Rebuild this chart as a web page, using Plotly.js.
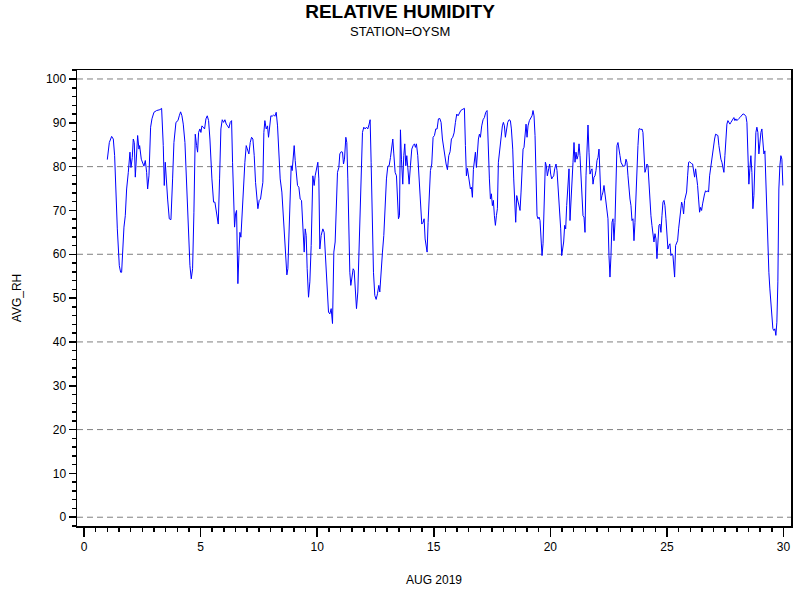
<!DOCTYPE html>
<html>
<head>
<meta charset="utf-8">
<script src="https://cdn.plot.ly/plotly-3.0.1.min.js"></script>
<style>
  html, body { margin: 0; padding: 0; background: #fff; }
  #chart { width: 800px; height: 600px; }
</style>
</head>
<body>
<div id="chart"></div>
<script>
// day of month (Aug 2019) and average relative humidity
var day = [
  1.000,1.086,1.186,1.257,1.314,1.371,1.429,1.514,1.571,1.614,1.657,1.714,1.771,1.829,1.900,1.971,
  2.014,2.071,2.114,2.157,2.200,2.257,2.300,2.357,2.386,2.457,2.514,2.571,2.629,2.686,2.729,2.786,2.857,2.914,
  3.000,3.114,3.257,3.329,3.400,3.443,3.486,3.529,3.586,3.657,3.729,3.800,3.857,3.943,
  4.029,4.086,4.143,4.200,4.257,4.329,4.400,4.471,4.543,4.600,4.657,4.714,4.771,4.829,4.871,4.914,4.971,
  5.014,5.057,5.114,5.171,5.229,5.286,5.343,5.400,5.486,5.557,5.614,5.686,5.757,5.814,5.871,5.929,5.986,
  6.043,6.100,6.157,6.214,6.271,6.329,6.371,6.414,6.457,6.500,6.543,6.571,6.600,6.643,6.686,6.729,6.786,6.843,6.900,6.957,
  7.014,7.071,7.129,7.186,7.243,7.300,7.357,7.414,7.457,7.514,7.571,7.629,7.671,7.714,7.757,7.814,7.871,7.914,7.957,
  8.014,8.071,8.129,8.186,8.243,8.300,8.357,8.414,8.486,8.543,8.600,8.657,8.700,8.743,8.786,8.843,8.886,8.929,8.971,
  9.014,9.057,9.100,9.157,9.214,9.271,9.329,9.386,9.443,9.486,9.529,9.571,9.629,9.686,9.743,9.814,9.871,9.914,9.971,
  10.029,10.071,10.114,10.171,10.243,10.300,10.357,10.429,10.486,10.543,10.600,10.657,10.714,10.771,10.829,10.871,10.929,10.971,
  11.029,11.086,11.129,11.171,11.229,11.271,11.314,11.357,11.400,11.443,11.500,11.543,11.586,11.643,11.686,11.743,11.800,11.857,11.900,11.943,
  12.000,12.057,12.114,12.171,12.229,12.271,12.314,12.357,12.414,12.471,12.529,12.586,12.643,12.686,12.743,12.800,12.857,12.914,12.971,
  13.029,13.086,13.143,13.200,13.243,13.286,13.343,13.400,13.443,13.486,13.529,13.571,13.614,13.671,13.714,13.757,13.800,13.843,13.886,13.943,
  14.000,14.057,14.114,14.171,14.214,14.257,14.314,14.371,14.429,14.486,14.543,14.586,14.629,14.671,14.714,14.757,14.814,14.857,14.914,14.971,
  15.029,15.086,15.143,15.200,15.257,15.314,15.371,15.429,15.471,15.529,15.586,15.643,15.700,15.757,15.814,15.871,15.929,15.986,
  16.043,16.100,16.157,16.214,16.271,16.314,16.357,16.400,16.443,16.486,16.529,16.571,16.614,16.657,16.700,16.743,16.786,16.829,16.871,16.914,16.957,
  17.000,17.057,17.114,17.171,17.229,17.286,17.329,17.386,17.429,17.471,17.514,17.557,17.600,17.643,17.686,17.729,17.771,17.829,17.886,17.943,17.986,
  18.029,18.071,18.114,18.171,18.229,18.286,18.329,18.386,18.429,18.471,18.514,18.557,18.614,18.657,18.700,18.743,18.786,18.829,18.871,18.914,18.957,
  19.000,19.043,19.100,19.157,19.214,19.257,19.300,19.343,19.386,19.429,19.471,19.514,19.557,19.600,19.643,19.686,19.729,19.786,19.829,19.871,19.929,19.971,
  20.014,20.057,20.100,20.143,20.186,20.243,20.286,20.329,20.371,20.400,20.443,20.486,20.529,20.571,20.614,20.657,20.700,20.743,20.800,20.843,20.886,20.929,20.971,
  21.014,21.057,21.100,21.143,21.186,21.229,21.271,21.314,21.357,21.400,21.443,21.486,21.529,21.571,21.614,21.657,21.700,21.743,21.786,21.829,21.871,21.914,21.957,
  22.000,22.043,22.086,22.129,22.171,22.214,22.257,22.300,22.343,22.386,22.429,22.471,22.514,22.557,22.600,22.643,22.686,22.729,22.771,22.814,22.857,22.900,22.943,22.986,
  23.029,23.071,23.114,23.157,23.200,23.243,23.286,23.329,23.371,23.414,23.457,23.500,23.543,23.586,23.629,23.671,23.714,23.757,23.800,23.843,23.886,23.929,23.971,
  24.014,24.057,24.100,24.143,24.186,24.229,24.271,24.314,24.357,24.400,24.443,24.486,24.529,24.571,24.614,24.657,24.700,24.743,24.786,24.829,24.871,24.914,24.957,
  25.000,25.043,25.086,25.129,25.171,25.214,25.257,25.300,25.329,25.371,25.414,25.457,25.500,25.543,25.586,25.629,25.671,25.714,25.757,25.800,25.843,25.886,25.929,25.971,
  26.014,26.057,26.100,26.143,26.186,26.229,26.271,26.314,26.357,26.400,26.443,26.486,26.529,26.571,26.614,26.657,26.700,26.743,26.786,26.829,26.871,26.914,26.957,
  27.000,27.043,27.086,27.143,27.186,27.229,27.271,27.314,27.357,27.400,27.443,27.486,27.529,27.571,27.614,27.657,27.700,27.743,27.786,27.829,27.871,27.914,27.957,
  28.000,28.043,28.086,28.129,28.171,28.214,28.257,28.300,28.343,28.386,28.429,28.471,28.514,28.557,28.600,28.643,28.686,28.729,28.771,28.814,28.857,28.900,28.943,28.986,
  29.029,29.071,29.114,29.157,29.200,29.243,29.286,29.329,29.371,29.414,29.457,29.500,29.543,29.586,29.629,29.671,29.714,29.757,29.800,29.843,29.886,29.929,29.971
];
var rh = [
  81.6,85.5,86.9,86.3,82.5,73.4,65.8,57.4,55.9,55.9,62.0,66.2,68.8,74.9,78.7,83.3,
  79.8,82.1,86.3,85.5,77.6,83.3,87.1,84.0,84.8,81.7,80.6,80.1,81.4,78.7,74.9,77.9,89.0,90.9,
  92.4,92.8,93.0,93.3,84.8,75.7,81.0,76.4,72.6,68.1,67.9,77.2,85.5,90.1,
  90.5,91.6,92.5,91.6,89.7,85.5,76.4,65.8,57.4,54.4,56.7,69.6,87.4,84.8,83.3,87.8,88.6,
  87.8,89.3,89.0,88.6,90.9,91.6,90.5,86.3,77.2,71.9,71.9,69.6,66.9,77.2,88.6,90.7,90.1,
  90.7,89.7,89.3,88.8,90.1,90.5,81.0,71.9,66.2,69.2,70.0,61.2,53.3,59.7,65.0,63.9,70.4,75.7,81.0,84.8,
  84.0,82.9,85.5,86.7,86.3,82.5,76.4,71.9,70.4,72.3,72.6,74.9,76.4,87.8,90.5,88.6,89.3,86.7,89.3,
  91.6,91.5,91.8,91.5,92.4,89.3,84.0,77.2,74.2,68.8,62.8,56.7,55.3,56.7,65.8,77.2,80.2,79.1,81.4,
  84.8,81.4,77.9,75.7,75.3,72.6,72.3,67.3,60.5,65.8,64.3,56.7,50.2,53.7,62.0,77.9,75.7,77.9,79.1,
  81.0,77.2,61.2,64.3,65.8,65.0,59.7,52.1,46.8,46.4,47.6,44.2,60.5,62.8,73.4,78.7,79.8,82.9,
  83.4,83.3,80.6,81.7,86.7,85.5,77.2,64.3,55.9,52.9,55.2,56.7,56.3,50.6,47.6,51.4,62.0,75.7,84.0,87.8,
  89.0,88.6,89.0,88.6,89.7,90.7,81.0,67.3,55.9,50.6,49.7,51.0,52.9,51.4,56.7,60.5,64.3,71.1,77.2,
  80.1,80.2,82.1,85.5,86.3,82.9,78.7,77.9,73.4,68.1,68.8,88.4,81.7,76.0,82.5,85.2,80.2,82.5,79.8,76.0,
  80.2,84.0,84.8,85.2,84.4,85.2,82.5,76.4,71.1,66.9,67.3,68.1,63.5,61.6,60.5,67.3,75.7,79.1,80.6,86.7,
  87.1,88.6,88.6,90.9,91.0,90.1,86.3,84.0,82.1,80.6,79.3,82.5,83.4,86.3,86.7,87.7,90.1,92.0,
  91.6,92.4,92.8,93.0,93.1,93.3,84.8,77.9,79.6,77.6,76.0,74.9,75.3,73.0,79.4,82.1,83.3,79.8,83.3,86.3,87.4,
  86.7,89.3,90.7,91.2,92.4,92.8,84.8,77.2,72.6,73.8,71.1,72.3,68.8,66.6,68.8,70.4,81.0,84.0,87.8,89.3,90.1,
  89.3,86.7,88.6,90.1,90.7,90.5,88.6,84.0,77.2,70.4,67.3,73.4,71.9,70.7,70.0,74.2,79.5,84.0,84.4,87.1,89.7,
  86.7,89.3,90.5,91.2,91.6,92.8,91.6,87.1,77.9,68.8,68.1,68.5,67.7,64.3,59.7,62.4,73.4,81.0,80.2,77.9,79.5,80.6,
  78.3,77.2,77.6,77.9,79.5,80.6,79.1,75.7,73.4,71.1,65.8,59.7,61.2,62.8,66.6,65.8,71.1,74.9,79.5,67.7,73.4,77.2,81.0,
  85.5,81.0,83.3,81.7,82.5,85.2,82.5,77.2,73.4,68.8,68.5,65.0,77.9,84.8,89.5,83.3,78.3,79.1,79.5,76.0,77.6,77.9,79.1,
  81.4,82.1,84.0,76.4,72.3,73.4,74.2,75.7,73.8,72.6,70.4,68.1,59.7,54.8,59.7,67.3,68.1,63.1,67.3,77.2,84.8,85.5,83.3,82.5,
  81.0,80.6,80.1,80.1,80.2,81.7,81.0,77.9,74.9,72.6,71.1,67.7,68.1,63.1,67.3,74.9,77.2,84.8,88.6,88.7,88.4,88.6,87.8,
  84.0,78.7,79.5,80.6,80.2,76.4,71.1,68.8,66.6,65.0,62.8,64.7,63.5,59.0,64.3,66.6,66.9,65.0,68.8,71.9,72.3,71.1,68.1,
  64.3,61.2,62.0,62.4,59.7,60.1,59.7,57.4,54.8,62.0,62.8,63.1,65.8,68.1,69.6,71.9,71.1,69.2,72.3,73.4,74.2,77.9,81.0,81.1,
  80.8,80.7,80.6,78.7,77.6,79.5,77.9,75.7,72.6,69.6,70.7,70.0,71.5,73.0,73.8,74.5,74.2,74.5,74.2,77.9,79.8,81.0,82.9,
  84.8,86.3,87.4,87.2,87.1,84.8,82.9,81.7,81.0,79.8,78.7,82.5,87.8,89.7,90.5,90.1,89.7,90.1,90.5,90.9,91.2,90.5,90.9,
  90.5,90.9,91.0,91.2,91.5,91.6,92.0,92.0,91.6,91.5,90.1,83.3,76.0,79.5,82.5,78.7,70.4,73.4,81.0,87.8,89.0,87.8,82.9,85.5,
  87.8,88.6,86.3,82.9,83.6,76.4,67.3,61.2,55.9,52.1,49.1,46.1,43.0,42.6,43.0,41.5,44.5,53.7,74.9,80.2,82.5,81.7,75.7
];

var xTicks = [0, 5, 10, 15, 20, 25, 30];
var yTicks = [0, 10, 20, 30, 40, 50, 60, 70, 80, 90, 100];
var yGrid = [0, 20, 40, 60, 80, 100];

var font = 'Liberation Sans, Arial, Helvetica, sans-serif';

var data = [{
  type: 'scatter',
  mode: 'lines',
  x: day,
  y: rh,
  line: {color: '#0000ff', width: 1},
  hoverinfo: 'x+y'
}];

// dashed reference lines every 20 (ticks are every 10)
var gridShapes = yGrid.map(function(v){
  return {
    type: 'line', layer: 'below',
    xref: 'paper', x0: 0, x1: 1,
    yref: 'y', y0: v, y1: v,
    line: {color: '#808080', width: 1, dash: '6px,4px'}
  };
});

var layout = {
  width: 800,
  height: 600,
  paper_bgcolor: '#fff',
  plot_bgcolor: '#fff',
  showlegend: false,
  font: {family: font, size: 12, color: '#000'},
  margin: {l: 77, r: 9, t: 70, b: 74, pad: 0},
  title: {
    text: '<b>RELATIVE HUMIDITY</b>',
    font: {family: font, size: 19, color: '#000'},
    x: 0.5, xanchor: 'center',
    y: 1 - 11 / 600, yanchor: 'middle', yref: 'container'
  },
  annotations: [{
    text: 'STATION=OYSM',
    xref: 'paper', yref: 'paper',
    x: 0.453, y: 1 + 39 / 456,
    xanchor: 'center', yanchor: 'middle',
    showarrow: false,
    font: {family: font, size: 13, color: '#000'}
  }],
  shapes: gridShapes,
  xaxis: {
    range: [-0.3, 30.32],
    tickvals: xTicks,
    ticks: 'outside', ticklen: 9, tickwidth: 1.5, tickcolor: '#000',
    minor: {dtick: 0.5, tick0: 0, ticks: 'outside', ticklen: 4, tickwidth: 1.5, tickcolor: '#000', showgrid: false},
    showline: true, mirror: true, linecolor: '#000', linewidth: 1.5,
    showgrid: false, zeroline: false,
    tickfont: {size: 12},
    title: {text: 'AUG 2019', font: {family: font, size: 12}, standoff: 22}
  },
  yaxis: {
    range: [-2, 102.05],
    tickvals: yTicks,
    ticks: 'outside', ticklen: 7, tickwidth: 1.5, tickcolor: '#000',
    minor: {dtick: 2, tick0: 0, ticks: 'outside', ticklen: 4, tickwidth: 1.5, tickcolor: '#000', showgrid: false},
    showline: true, mirror: true, linecolor: '#000', linewidth: 1.5,
    showgrid: false, zeroline: false,
    tickfont: {size: 12},
    title: {text: 'AVG_RH', font: {family: font, size: 12}, standoff: 22}
  }
};

Plotly.newPlot('chart', data, layout, {staticPlot: true, displayModeBar: false});
</script>
</body>
</html>
